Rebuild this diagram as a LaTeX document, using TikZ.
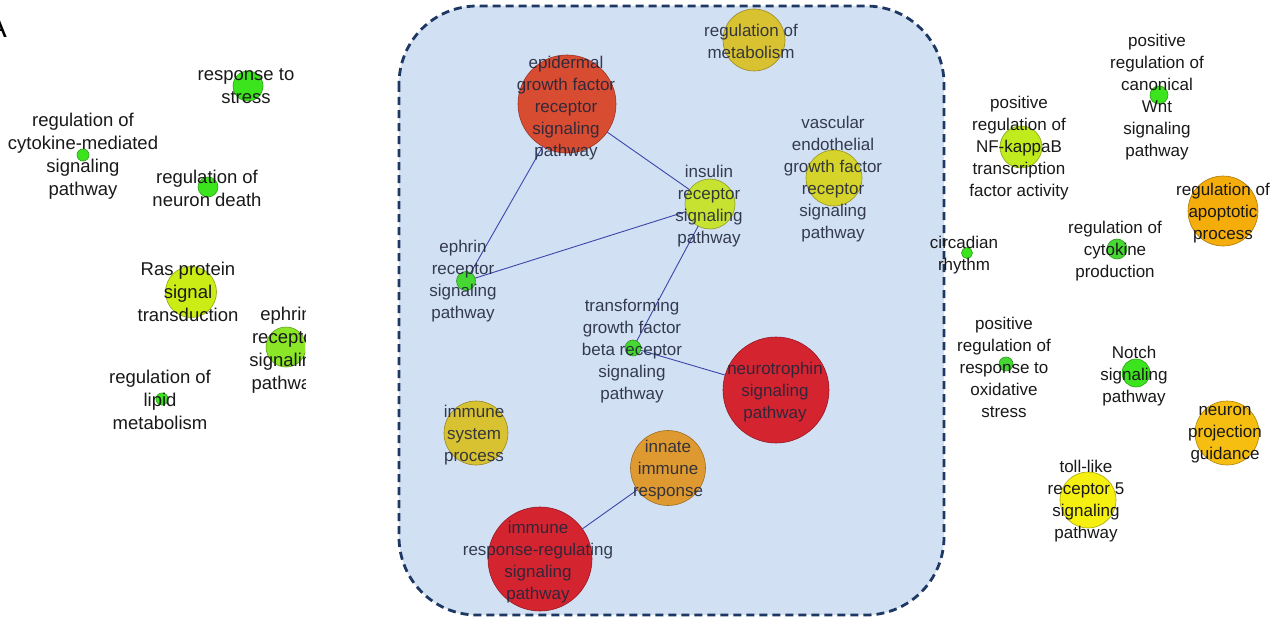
\documentclass[tikz,border=0pt]{standalone}
\usepackage{fontspec}
\setmainfont{Liberation Sans}
\definecolor{cGreen}{RGB}{60,228,30}
\definecolor{cGreenB}{RGB}{70,215,50}
\definecolor{cLime}{RGB}{204,236,22}
\definecolor{cLimeG}{RGB}{140,230,40}
\definecolor{cInsulin}{RGB}{200,226,50}
\definecolor{cOlive}{RGB}{214,212,42}
\definecolor{cMustard}{RGB}{216,194,50}
\definecolor{cEGF}{RGB}{216,76,50}
\definecolor{cRed}{RGB}{212,36,48}
\definecolor{cInnate}{RGB}{222,154,48}
\definecolor{cApop}{RGB}{245,173,12}
\definecolor{cNeuron}{RGB}{245,190,16}
\definecolor{cToll}{RGB}{245,240,16}
\definecolor{cNFk}{RGB}{192,236,30}
\definecolor{boxFill}{RGB}{210,224,243}
\definecolor{boxLine}{RGB}{30,56,100}
\definecolor{edgeC}{RGB}{60,70,170}
\definecolor{txtOut}{RGB}{25,25,25}
\definecolor{txtIn}{RGB}{30,36,58}
\tikzset{
  bub/.style={circle, inner sep=0pt, outer sep=0pt, fill=#1, draw=#1!70!black, line width=0.6pt},
  lbl/.style={align=center, inner sep=0pt, font=\fontsize{17}{22}\selectfont, text=txtOut},
  lblin/.style={lbl, text=txtIn, text opacity=0.88},
  lblL/.style={align=center, inner sep=0pt, font=\fontsize{18.5}{23}\selectfont, text=txtOut},
  edge/.style={draw=edgeC, line width=0.9pt},
  grp/.style={draw=boxLine, fill=boxFill, line width=2.8pt, dash pattern=on 8pt off 5pt, rounded corners=78pt}
}
\begin{document}
\begin{tikzpicture}[x=1pt,y=-1pt]
\useasboundingbox (0,0) rectangle (1278,626);
\clip (0,0) rectangle (1278,626);
\fill[white] (0,0) rectangle (1278,626);

% panel letter
\node[font=\fontsize{30}{30}\selectfont, inner sep=0pt] (panelA) at (-3,27) {A};

% ---------- left cluster ----------
\node[bub=cGreen, minimum size=30pt] (rs) at (248,86) {};
\node[lblL] (rsT) at (246,86) {response to\\stress};

\node[bub=cGreen, minimum size=12pt] (cm) at (83,155) {};
\node[lblL] (cmT) at (83,156) {regulation of\\cytokine-mediated\\signaling\\pathway};

\node[bub=cGreen, minimum size=20pt] (nd) at (208,187) {};
\node[lblL] (ndT) at (207,188) {regulation of\\neuron death};

\node[bub=cLime, minimum size=51pt] (ras) at (191,292) {};
\node[lblL] (rasT) at (188,292) {Ras protein\\signal\\transduction};

\node[bub=cGreen, minimum size=12pt] (lip) at (162,399) {};
\node[lblL] (lipT) at (160,400) {regulation of\\lipid\\metabolism};

\begin{scope}
\clip (0,0) rectangle (305,626);
\node[bub=cLimeG, minimum size=40pt] (eph1) at (286,347) {};
\node[lblL] (eph1T) at (286,350) {ephrin\\receptor\\signaling\\pathway};
\end{scope}

% ---------- group box ----------
\path[grp] (399,6) rectangle (944,615);

\node[bub=cMustard, minimum size=62pt] (met) at (754,40) {};
\node[bub=cEGF, minimum size=98pt] (egf) at (567,104) {};
\node[bub=cInsulin, minimum size=50pt] (ins) at (710,204) {};
\node[bub=cOlive, minimum size=56pt] (veg) at (834,178) {};
\node[bub=cGreenB, minimum size=19pt] (eph2) at (466,281) {};
\node[bub=cGreenB, minimum size=16pt] (tgf) at (633,348) {};
\node[bub=cRed, minimum size=106pt] (neu) at (776,390) {};
\node[bub=cMustard, minimum size=64pt] (isp) at (476,433) {};
\node[bub=cInnate, minimum size=75pt] (inn) at (668,468) {};
\node[bub=cRed, minimum size=104pt] (irr) at (540,559) {};

\draw[edge] (egf) -- (ins);
\draw[edge] (egf) -- (eph2);
\draw[edge] (eph2) -- (ins);
\draw[edge] (ins) -- (tgf);
\draw[edge] (tgf) -- (neu);
\draw[edge] (inn) -- (irr);

\node[lblin] (metT) at (751,41) {regulation of\\metabolism};
\node[lblin] (egfT) at (566,108) {epidermal\\growth factor\\receptor\\signaling\\pathway};
\node[lblin] (insT) at (709,206) {insulin\\receptor\\signaling\\pathway};
\node[lblin] (vegT) at (833,179) {vascular\\endothelial\\growth factor\\receptor\\signaling\\pathway};
\node[lblin] (eph2T) at (463,281) {ephrin\\receptor\\signaling\\pathway};
\node[lblin] (tgfT) at (632,351) {transforming\\growth factor\\beta receptor\\signaling\\pathway};
\node[lblin] (neuT) at (775,392) {neurotrophin\\signaling\\pathway};
\node[lblin] (ispT) at (474,435) {immune\\system\\process};
\node[lblin] (innT) at (668,470) {innate\\immune\\response};
\node[lblin] (irrT) at (538,562) {immune\\response-regulating\\signaling\\pathway};

% ---------- right cluster ----------
\node[bub=cNFk, minimum size=42pt] (nfk) at (1021,147) {};
\node[lbl] (nfkT) at (1019,148) {positive\\regulation of\\NF-kappaB\\transcription\\factor activity};

\node[bub=cGreen, minimum size=18pt] (wnt) at (1159,95) {};
\node[lbl] (wntT) at (1157,97) {positive\\regulation of\\canonical\\Wnt\\signaling\\pathway};

\node[bub=cApop, minimum size=70pt] (apo) at (1223,211) {};
\node[lbl] (apoT) at (1223,213) {regulation of\\apoptotic\\process};

\node[bub=cGreen, minimum size=11pt] (cir) at (967,253) {};
\node[lbl] (cirT) at (964,255) {circadian\\rhythm};

\node[bub=cGreenB, minimum size=20pt] (cyt) at (1117,249) {};
\node[lbl] (cytT) at (1115,251) {regulation of\\cytokine\\production};

\node[bub=cGreenB, minimum size=14pt] (oxi) at (1006,364) {};
\node[lbl] (oxiT) at (1004,367) {positive\\regulation of\\response to\\oxidative\\stress};

\node[bub=cGreen, minimum size=28pt] (not) at (1136,373) {};
\node[lbl] (notT) at (1134,376) {Notch\\signaling\\pathway};

\node[bub=cNeuron, minimum size=64pt] (npg) at (1227,433) {};
\node[lbl] (npgT) at (1225,435) {neuron\\projection\\guidance};

\node[bub=cToll, minimum size=56pt] (tll) at (1088,500) {};
\node[lbl] (tllT) at (1086,501) {toll-like\\receptor 5\\signaling\\pathway};
\end{tikzpicture}
\end{document}
